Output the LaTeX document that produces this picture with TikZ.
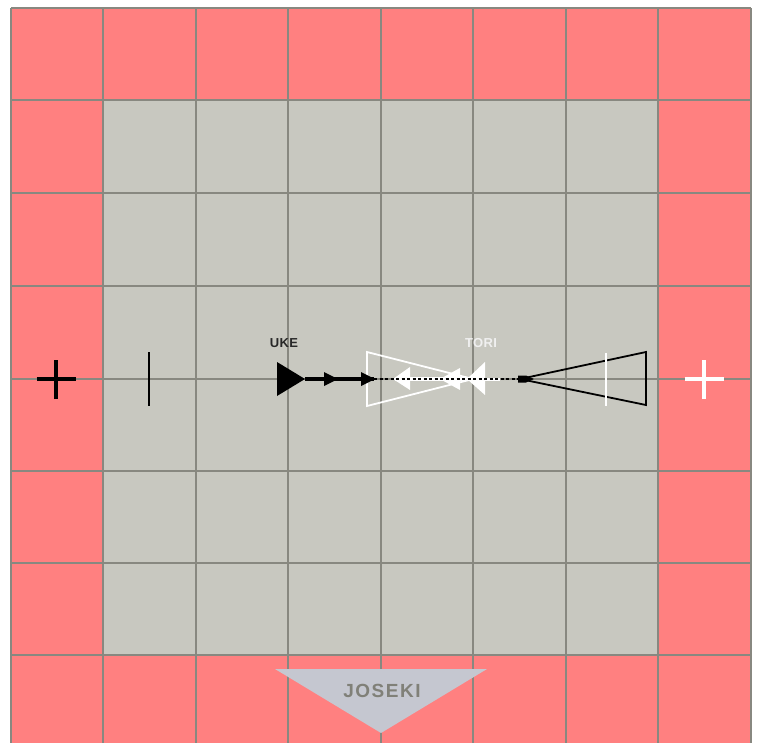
\documentclass[tikz,border=0pt]{standalone}
\usepackage{fontspec}
\setmainfont{Liberation Sans}
\usetikzlibrary{arrows.meta}
\definecolor{matred}{HTML}{FF8080}
\definecolor{matgray}{HTML}{C8C8C0}
\definecolor{gridline}{HTML}{888880}
\definecolor{josekifill}{HTML}{C5C7D0}
\definecolor{josekitext}{HTML}{808078}
\definecolor{ukecol}{HTML}{282828}
\tikzset{
  gridln/.style={draw=gridline, line width=2pt},
  plusline/.style={line width=3.4pt},
  bar/.style={line width=1.8pt},
  cone/.style={line width=1.8pt, line join=miter},
  lbl/.style={font=\bfseries\fontsize{13}{14}\selectfont\addfontfeatures{LetterSpace=3}, inner sep=0pt, anchor=base},
}
\begin{document}
\begin{tikzpicture}[x=1pt, y=-1pt]
\useasboundingbox (0,0) rectangle (758,742);
\begin{scope}
\clip (0,0) rectangle (758,742);
% mat
\fill[matred] (11,8) rectangle (751,748);
\fill[matgray] (103,100) rectangle (658,655);
\foreach \gx in {11,103,196,288,381,473,566,658,751} {
  \draw[gridln] (\gx,8) -- (\gx,748);
}
\foreach \gy in {8,100,193,286,379,471,563,655} {
  \draw[gridln] (11,\gy) -- (751,\gy);
}
\end{scope}
% black plus and bar on the left
\coordinate (bp) at (56,379);
\draw[plusline, black] ([xshift=-19.5pt]bp) -- ([xshift=19.5pt]bp);
\draw[plusline, black] ([yshift=-20pt]bp) -- ([yshift=19pt]bp);
\draw[bar, black] (149,352) -- (149,406);
% white plus on the right
\coordinate (wp) at (704,379);
\draw[plusline, white] ([xshift=-19.5pt]wp) -- ([xshift=19.5pt]wp);
\draw[plusline, white] ([yshift=-20pt]wp) -- ([yshift=19pt]wp);
% white cone (tori)
\draw[cone, white] (473,379) -- (367,352) -- (367,406) -- cycle;
% black cone
\draw[cone, black] (520,379) -- (646,352) -- (646,405) -- cycle;
\draw[bar, white] (606,353) -- (606,406);
% uke
\node[lbl, text=ukecol] (ukelbl) at (284,347) {UKE};
\coordinate (ukeA) at (305,379);
\coordinate (ukeB) at (374,379);
\fill[black] (277,362) -- (ukeA) -- (277,396) -- cycle;
\draw[line width=3.4pt, black] (ukeA) -- (ukeB);
\fill[black] (324,372) -- (338,379) -- (324,386) -- cycle;
\fill[black] (361,372) -- (375,379) -- (361,386) -- cycle;
% tori
\node[lbl, text=white!94!black] (torilbl) at (481,347) {TORI};
\coordinate (toriA) at (467,379);
\coordinate (toriB) at (395,379);
\draw[line width=3.6pt, white] (toriA) -- (toriB);
\draw[line width=3pt, white] (toriA) -- (500,379);
\fill[white] (485,362) -- (toriA) -- (485,395) -- cycle;
\fill[white] (460,368) -- (440,379) -- (460,390) -- cycle;
\fill[white] (410,367) -- (393,379) -- (410,390) -- cycle;
% dotted link
\draw[black, line width=2.4pt, dash pattern=on 3pt off 2.5pt] (ukeB) -- (520,379);
\fill[black] (518,375.5) -- (526,375.5) -- (534,379) -- (526,382.5) -- (518,382.5) -- cycle;
% joseki
\fill[josekifill] (275,669) -- (487,669) -- (381,733) -- cycle;
\node[font=\bfseries\fontsize{19}{20}\selectfont\addfontfeatures{LetterSpace=8}, text=josekitext, inner sep=0pt, anchor=base] (joseki) at (382,697) {JOSEKI};
\end{tikzpicture}
\end{document}
